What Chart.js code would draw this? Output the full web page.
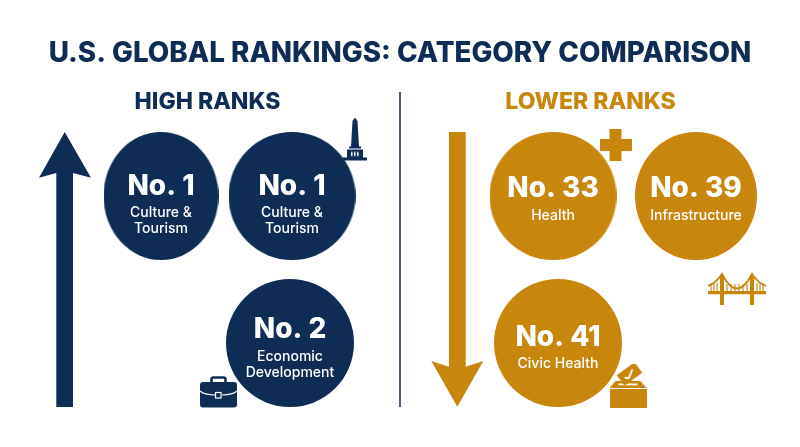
<!DOCTYPE html>
<html>
<head>
<meta charset="utf-8">
<title>U.S. Global Rankings</title>
<script src="https://cdn.jsdelivr.net/npm/chart.js@4/dist/chart.umd.min.js"></script>
<style>
  html, body { margin: 0; padding: 0; background: #fff; }
  canvas { display: block; }
</style>
</head>
<body>
<canvas id="chart" width="800" height="447"></canvas>
<script>
// chart data
const chartTitle = 'U.S. GLOBAL RANKINGS: CATEGORY COMPARISON'
const groupNames = ['HIGH RANKS', 'LOWER RANKS']
const highRanks = [1, 1, 2]
const highCategories = [['Culture &', 'Tourism'], ['Culture &', 'Tourism'], ['Economic', 'Development']]
const lowerRanks = [33, 39, 41]
const lowerCategories = [['Health'], ['Infrastructure'], ['Civic Health']]

// layout, in page units (the hidden scales run 1:1 with the picture)
const NAVY = '#0f2c57'
const GOLD = '#c9860c'
const FONT = 'Inter, "Open Sans", sans-serif'

const highSpots = [
  { x: 161, y: 196, rx: 57.5, ry: 64, rankY: 187, catY: 213 },
  { x: 292, y: 196, rx: 63.5, ry: 64, rankY: 187, catY: 213 },
  { x: 290, y: 343, rx: 64, ry: 64, rankY: 330, catY: 357 }
]
const lowerSpots = [
  { x: 553, y: 196, rx: 63.5, ry: 64, rankY: 189, catY: 216 },
  { x: 696, y: 196, rx: 61, ry: 64, rankY: 189, catY: 216 },
  { x: 558, y: 343, rx: 64, ry: 64, rankY: 338, catY: 364 }
]
const headingSpots = [{ x: 207.5, y: 102 }, { x: 590.5, y: 102 }]
const upArrow = [[56.3, 407], [56.3, 173], [39, 177.7], [64.7, 132], [91, 177.7], [73, 173], [73, 407], [56.3, 407]]
const downArrow = [[449, 132], [449, 366.7], [431.3, 361], [457.3, 406.7], [483.3, 361], [465.7, 366.7], [465.7, 132], [449, 132]]
const dividerLine = [[400, 92], [400, 407]]

function sprite(w, h, draw) {
  const c = document.createElement('canvas')
  c.width = w
  c.height = h
  draw(c.getContext('2d'))
  return c
}

function disc(rx, ry, color) {
  const w = Math.round(rx * 2), h = Math.round(ry * 2)
  return sprite(w, h, (g) => {
    g.fillStyle = color
    g.beginPath()
    g.ellipse(w / 2, h / 2, w / 2, h / 2, 0, 0, Math.PI * 2)
    g.fill()
  })
}

function monumentIcon() {
  return sprite(26, 44, (g) => {
    g.fillStyle = NAVY
    g.beginPath()
    g.moveTo(13, 0); g.lineTo(15.5, 3.5); g.lineTo(17, 29); g.lineTo(9, 29); g.lineTo(10.5, 3.5)
    g.closePath()
    g.fill()
    g.fillRect(7, 29, 12, 2)
    g.fillRect(5, 32, 16, 8)
    g.fillRect(1, 40, 24, 3)
    g.fillStyle = '#fff'
    ;[9, 12, 15].forEach((x) => g.fillRect(x, 34.5, 1.6, 4))
  })
}

function briefcaseIcon() {
  return sprite(37, 32, (g) => {
    g.strokeStyle = NAVY
    g.lineWidth = 2.6
    g.beginPath()
    g.roundRect(11.5, 1.5, 14, 9, 2)
    g.stroke()
    g.fillStyle = NAVY
    g.beginPath()
    g.roundRect(0, 6, 37, 25.5, 3)
    g.fill()
    g.strokeStyle = '#fff'
    g.lineWidth = 1.2
    g.beginPath()
    g.moveTo(0, 15)
    g.quadraticCurveTo(4, 19, 15, 19)
    g.moveTo(22, 19)
    g.quadraticCurveTo(33, 19, 37, 15)
    g.stroke()
    g.strokeRect(15.5, 16.5, 5.5, 5.5)
  })
}

function plusIcon() {
  return sprite(32, 32, (g) => {
    g.fillStyle = GOLD
    g.fillRect(10, 0, 12, 32)
    g.fillRect(0, 10, 32, 12)
  })
}

function bridgeIcon() {
  return sprite(58, 33, (g) => {
    g.fillStyle = GOLD
    g.strokeStyle = GOLD
    g.fillRect(0, 19, 58, 3.2)
    // towers
    g.beginPath()
    g.moveTo(14, 0); g.lineTo(16, 4); g.lineTo(16, 33); g.lineTo(12, 33); g.lineTo(12, 4)
    g.closePath()
    g.fill()
    g.beginPath()
    g.moveTo(44, 0); g.lineTo(46, 4); g.lineTo(46, 33); g.lineTo(42, 33); g.lineTo(42, 4)
    g.closePath()
    g.fill()
    // cables
    g.lineWidth = 1.8
    g.beginPath()
    g.moveTo(14, 2)
    g.quadraticCurveTo(29, 31, 44, 2)
    g.moveTo(14, 2)
    g.quadraticCurveTo(8, 11, 0, 14)
    g.moveTo(44, 2)
    g.quadraticCurveTo(50, 11, 58, 14)
    g.stroke()
    // hangers
    g.lineWidth = 1.1
    g.beginPath()
    ;[19, 23, 27, 31, 35, 39].forEach((x) => { g.moveTo(x, 12); g.lineTo(x, 20) })
    ;[3, 6, 9, 49, 52, 55].forEach((x) => { g.moveTo(x, 11); g.lineTo(x, 20) })
    g.stroke()
  })
}

function ballotIcon() {
  return sprite(37, 44, (g) => {
    g.fillStyle = GOLD
    g.fillRect(0, 25, 37, 19)
    g.beginPath()
    g.moveTo(6, 17); g.lineTo(31, 17); g.lineTo(37, 24); g.lineTo(0, 24)
    g.closePath()
    g.fill()
    g.fillStyle = '#fff'
    g.fillRect(9, 19.5, 19, 1.8)
    // ballot paper
    g.save()
    g.translate(20, 10)
    g.rotate(-Math.PI * 0.2)
    g.fillStyle = GOLD
    g.fillRect(-11, -6.5, 22, 13)
    g.strokeStyle = '#fff'
    g.lineWidth = 1.8
    g.beginPath()
    g.moveTo(-6, 0); g.lineTo(-3, 3); g.lineTo(5, -2)
    g.stroke()
    g.restore()
  })
}

const iconSpots = [
  { x: 355, y: 139.5, img: monumentIcon() },
  { x: 218.5, y: 392, img: briefcaseIcon() },
  { x: 615.5, y: 145, img: plusIcon() },
  { x: 737, y: 288.5, img: bridgeIcon() },
  { x: 628, y: 386, img: ballotIcon() }
]

function toPoints(list) {
  return list.map((p) => ({ x: p[0], y: p[1] }))
}

function shape(list, color, extra) {
  return Object.assign({
    data: toPoints(list),
    showLine: true,
    fill: 'shape',
    borderWidth: 0,
    borderColor: color,
    backgroundColor: color,
    pointRadius: 0,
    tension: 0
  }, extra)
}

// writes rank and category text inside the discs, and the two group headings
const textPlugin = {
  id: 'rankText',
  afterDatasetsDraw(chart) {
    const { ctx, scales } = chart
    const px = (v) => scales.x.getPixelForValue(v)
    const py = (v) => scales.y.getPixelForValue(v)

    ctx.save()
    ctx.textAlign = 'center'
    ctx.textBaseline = 'middle'

    groupNames.forEach((name, i) => {
      ctx.font = '800 23px ' + FONT
      ctx.fillStyle = i === 0 ? NAVY : GOLD
      ctx.fillText(name, px(headingSpots[i].x), py(headingSpots[i].y))
    })

    const writeGroup = (ranks, cats, spots) => {
      ranks.forEach((rank, i) => {
        const s = spots[i]
        ctx.fillStyle = '#fff'
        ctx.font = '800 28px ' + FONT
        ctx.fillText('No. ' + rank, px(s.x), py(s.rankY))
        ctx.font = '500 14px ' + FONT
        cats[i].forEach((line, k) => {
          ctx.fillText(line, px(s.x), py(s.catY + k * 15.5))
        })
      })
    }
    writeGroup(highRanks, highCategories, highSpots)
    writeGroup(lowerRanks, lowerCategories, lowerSpots)
    ctx.restore()
  }
}

new Chart(document.getElementById('chart'), {
  type: 'scatter',
  data: {
    datasets: [
      shape(upArrow, NAVY, { label: 'up arrow' }),
      shape(downArrow, GOLD, { label: 'down arrow' }),
      {
        label: 'divider',
        data: toPoints(dividerLine),
        showLine: true,
        borderColor: NAVY,
        borderWidth: 1.5,
        pointRadius: 0
      },
      {
        label: 'High ranks',
        data: highSpots.map((s, i) => ({ x: s.x, y: s.y, rank: highRanks[i] })),
        pointStyle: highSpots.map((s) => disc(s.rx, s.ry, NAVY)),
        pointRadius: 10
      },
      {
        label: 'Lower ranks',
        data: lowerSpots.map((s, i) => ({ x: s.x, y: s.y, rank: lowerRanks[i] })),
        pointStyle: lowerSpots.map((s) => disc(s.rx, s.ry, GOLD)),
        pointRadius: 10
      },
      {
        label: 'icons',
        data: iconSpots.map((s) => ({ x: s.x, y: s.y })),
        pointStyle: iconSpots.map((s) => s.img),
        pointRadius: 10
      }
    ]
  },
  options: {
    responsive: false,
    animation: false,
    events: [],
    layout: { padding: 0, autoPadding: false },
    scales: {
      x: { type: 'linear', display: false, min: 0, max: 800 },
      y: { type: 'linear', display: false, reverse: true, min: 88, max: 447 }
    },
    plugins: {
      legend: { display: false },
      tooltip: { enabled: false },
      title: {
        display: true,
        text: chartTitle,
        color: NAVY,
        font: { family: FONT, size: 27.8, weight: '800', lineHeight: 1.2 },
        padding: { top: 36.5, bottom: 18.14 }
      }
    }
  },
  plugins: [textPlugin]
})
</script>
</body>
</html>
